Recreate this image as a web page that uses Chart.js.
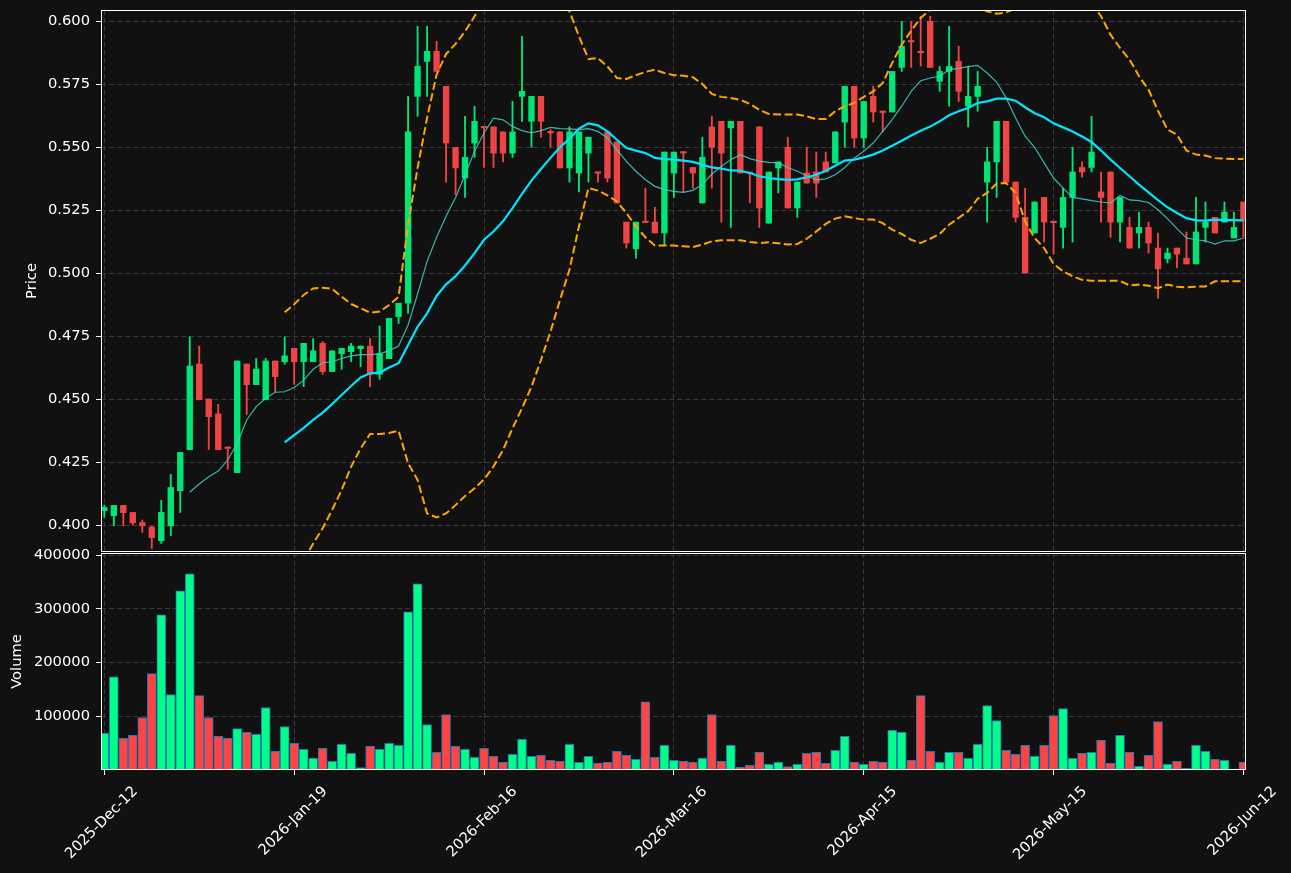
<!DOCTYPE html>
<html>
<head>
<meta charset="utf-8">
<script src="https://cdn.jsdelivr.net/npm/chart.js@4.4.1/dist/chart.umd.min.js"></script>
<style>
  html, body { margin: 0; padding: 0; background: #111111; }
  #wrap { position: relative; width: 1291px; height: 873px; overflow: hidden; }
  canvas { position: absolute; left: 0; }
  #priceChart { top: 0; }
  #volumeChart { top: 530px; }
</style>
</head>
<body>
<div id="wrap">
  <canvas id="priceChart" width="1291" height="553"></canvas>
  <canvas id="volumeChart" width="1291" height="343"></canvas>
</div>
<script>
// x tick labels, one every 20 candles
const tickLabels = ['2025-Dec-12', '2026-Jan-19', '2026-Feb-16', '2026-Mar-16', '2026-Apr-15', '2026-May-15', '2026-Jun-12'];
const tickIndex = [0, 20, 40, 60, 80, 100, 120];

const priceTicks = [0.400, 0.425, 0.450, 0.475, 0.500, 0.525, 0.550, 0.575, 0.600];
const volumeTicks = [100000, 200000, 300000, 400000];

// OHLC
const opens = [
  0.4058, 0.4038, 0.4079, 0.4051, 0.4011, 0.3993, 0.3939, 0.3998, 0.4137, 0.4300,
  0.4640, 0.4501, 0.4442, 0.4310, 0.4209, 0.4640, 0.4558, 0.4498, 0.4652, 0.4649,
  0.4702, 0.4649, 0.4649, 0.4722, 0.4610, 0.4681, 0.4689, 0.4701, 0.4711, 0.4599,
  0.4661, 0.4828, 0.4881, 0.5702, 0.5841, 0.5881, 0.5742, 0.5500, 0.5378, 0.5517,
  0.5581, 0.5581, 0.5561, 0.5477, 0.5702, 0.5603, 0.5702, 0.5563, 0.5561, 0.5418,
  0.5398, 0.5477, 0.5401, 0.5561, 0.5521, 0.5203, 0.5097, 0.5206, 0.5203, 0.5160,
  0.5398, 0.5481, 0.5420, 0.5279, 0.5581, 0.5603, 0.5577, 0.5603, 0.5400, 0.5581,
  0.5199, 0.5418, 0.5500, 0.5259, 0.5398, 0.5402, 0.5442, 0.5438, 0.5600, 0.5742,
  0.5537, 0.5702, 0.5642, 0.5640, 0.5817, 0.5922, 0.5880, 0.6000, 0.5762, 0.5801,
  0.5841, 0.5663, 0.5702, 0.5362, 0.5442, 0.5603, 0.5362, 0.5222, 0.5160, 0.5301,
  0.5205, 0.5182, 0.5301, 0.5420, 0.5420, 0.5323, 0.5402, 0.5203, 0.5182, 0.5160,
  0.5182, 0.5100, 0.5058, 0.5100, 0.5060, 0.5037, 0.5182, 0.5222, 0.5203, 0.5140,
  0.5283
];
const highs = [
  0.4080, 0.4079, 0.4079, 0.4051, 0.4021, 0.3997, 0.4099, 0.4202, 0.4289, 0.4748,
  0.4711, 0.4501, 0.4480, 0.4310, 0.4652, 0.4640, 0.4662, 0.4662, 0.4652, 0.4748,
  0.4702, 0.4722, 0.4741, 0.4729, 0.4692, 0.4702, 0.4722, 0.4711, 0.4741, 0.4791,
  0.4821, 0.4881, 0.5702, 0.5980, 0.5980, 0.5921, 0.5742, 0.5500, 0.5623, 0.5663,
  0.5581, 0.5581, 0.5561, 0.5682, 0.5940, 0.5702, 0.5702, 0.5570, 0.5561, 0.5581,
  0.5561, 0.5540, 0.5401, 0.5561, 0.5521, 0.5203, 0.5203, 0.5338, 0.5262, 0.5481,
  0.5481, 0.5481, 0.5420, 0.5540, 0.5623, 0.5603, 0.5603, 0.5603, 0.5400, 0.5581,
  0.5402, 0.5442, 0.5540, 0.5362, 0.5500, 0.5481, 0.5481, 0.5561, 0.5742, 0.5742,
  0.5682, 0.5742, 0.5642, 0.5801, 0.6000, 0.6000, 0.6020, 0.6020, 0.5821, 0.5980,
  0.5901, 0.5821, 0.5801, 0.5500, 0.5603, 0.5603, 0.5362, 0.5338, 0.5283, 0.5301,
  0.5205, 0.5338, 0.5500, 0.5442, 0.5623, 0.5402, 0.5402, 0.5301, 0.5222, 0.5243,
  0.5203, 0.5160, 0.5100, 0.5100, 0.5164, 0.5301, 0.5283, 0.5222, 0.5283, 0.5243,
  0.5283
];
const lows = [
  0.4031, 0.3998, 0.3998, 0.4001, 0.3972, 0.3908, 0.3928, 0.3959, 0.4051, 0.4300,
  0.4498, 0.4301, 0.4300, 0.4222, 0.4209, 0.4440, 0.4558, 0.4498, 0.4528, 0.4639,
  0.4559, 0.4550, 0.4649, 0.4599, 0.4610, 0.4619, 0.4649, 0.4629, 0.4550, 0.4579,
  0.4661, 0.4801, 0.4841, 0.5623, 0.5702, 0.5801, 0.5362, 0.5312, 0.5301, 0.5460,
  0.5420, 0.5420, 0.5442, 0.5460, 0.5603, 0.5500, 0.5540, 0.5500, 0.5418, 0.5362,
  0.5323, 0.5362, 0.5362, 0.5362, 0.5279, 0.5100, 0.5060, 0.5201, 0.5160, 0.5111,
  0.5301, 0.5323, 0.5338, 0.5279, 0.5338, 0.5203, 0.5182, 0.5398, 0.5279, 0.5182,
  0.5199, 0.5319, 0.5259, 0.5222, 0.5358, 0.5301, 0.5402, 0.5438, 0.5500, 0.5500,
  0.5500, 0.5600, 0.5561, 0.5640, 0.5801, 0.5817, 0.5822, 0.5817, 0.5722, 0.5663,
  0.5682, 0.5581, 0.5643, 0.5203, 0.5301, 0.5362, 0.5203, 0.5001, 0.5160, 0.5124,
  0.5076, 0.5100, 0.5124, 0.5381, 0.5402, 0.5203, 0.5143, 0.5124, 0.5100, 0.5100,
  0.5080, 0.4901, 0.5041, 0.5021, 0.5037, 0.5037, 0.5124, 0.5160, 0.5203, 0.5140,
  0.5143
];
const closes = [
  0.4071, 0.4079, 0.4050, 0.4010, 0.3998, 0.3951, 0.4051, 0.4150, 0.4289, 0.4632,
  0.4498, 0.4431, 0.4300, 0.4305, 0.4652, 0.4558, 0.4620, 0.4652, 0.4590, 0.4672,
  0.4649, 0.4722, 0.4692, 0.4610, 0.4692, 0.4702, 0.4711, 0.4711, 0.4599, 0.4681,
  0.4821, 0.4881, 0.5561, 0.5821, 0.5881, 0.5801, 0.5517, 0.5418, 0.5460, 0.5603,
  0.5577, 0.5477, 0.5477, 0.5561, 0.5722, 0.5702, 0.5603, 0.5557, 0.5418, 0.5561,
  0.5561, 0.5540, 0.5397, 0.5378, 0.5279, 0.5120, 0.5203, 0.5201, 0.5160, 0.5481,
  0.5481, 0.5477, 0.5398, 0.5460, 0.5500, 0.5477, 0.5603, 0.5398, 0.5396, 0.5259,
  0.5402, 0.5442, 0.5259, 0.5362, 0.5358, 0.5358, 0.5402, 0.5561, 0.5742, 0.5537,
  0.5682, 0.5640, 0.5638, 0.5801, 0.5901, 0.5918, 0.5875, 0.5817, 0.5801, 0.5821,
  0.5722, 0.5702, 0.5742, 0.5442, 0.5603, 0.5362, 0.5222, 0.5001, 0.5283, 0.5203,
  0.5201, 0.5301, 0.5402, 0.5402, 0.5481, 0.5301, 0.5203, 0.5301, 0.5100, 0.5182,
  0.5120, 0.5018, 0.5080, 0.5076, 0.5037, 0.5164, 0.5203, 0.5160, 0.5243, 0.5182,
  0.5213
];
const volumes = [
  68100, 173400, 58800, 64400, 97800, 179600, 289200, 140600, 333700, 365300,
  138700, 97800, 62500, 58800, 77400, 70000, 66300, 116400, 34700, 81100,
  49500, 38400, 21700, 40200, 16100, 47700, 31000, 4300, 44000, 38400,
  49500, 45800, 294700, 346700, 84800, 32800, 103400, 44000, 38400, 23500,
  40200, 25400, 14200, 29100, 57000, 25400, 27200, 18000, 16100, 47700,
  14200, 25400, 12400, 14200, 34700, 27200, 19800, 126900, 23500, 45800,
  18000, 16100, 14200, 21700, 103400, 16100, 45800, 5000, 8700, 32800,
  10500, 14200, 6200, 10500, 31000, 32800, 12400, 36500, 62500, 14200,
  10500, 16100, 14200, 73700, 70000, 18000, 138700, 34700, 14200, 32800,
  32800, 21700, 47700, 120100, 92300, 36500, 29100, 45800, 25400, 45800,
  101500, 114600, 21700, 31000, 32800, 55100, 12400, 64400, 32800, 6800,
  27200, 90400, 10500, 16100, 3100, 45800, 34700, 19800, 18000, 1500,
  14200
];

// overlay lines (null before each line starts)
const sma10 = [
  null, null, null, null, null, null, null, null, null, 0.4131,
  0.4164, 0.4193, 0.4215, 0.4259, 0.4325, 0.4418, 0.4471, 0.4504, 0.4528, 0.4530,
  0.4547, 0.4576, 0.4619, 0.4645, 0.4649, 0.4662, 0.4672, 0.4677, 0.4677, 0.4680,
  0.4693, 0.4711, 0.4795, 0.4918, 0.5047, 0.5143, 0.5226, 0.5301, 0.5391, 0.5484,
  0.5557, 0.5616, 0.5609, 0.5583, 0.5566, 0.5557, 0.5566, 0.5579, 0.5574, 0.5573,
  0.5570, 0.5574, 0.5563, 0.5537, 0.5490, 0.5444, 0.5405, 0.5371, 0.5345, 0.5332,
  0.5325, 0.5321, 0.5329, 0.5352, 0.5394, 0.5424, 0.5451, 0.5471, 0.5455, 0.5445,
  0.5440, 0.5438, 0.5420, 0.5405, 0.5387, 0.5371, 0.5375, 0.5391, 0.5420, 0.5457,
  0.5484, 0.5517, 0.5563, 0.5610, 0.5663, 0.5722, 0.5764, 0.5775, 0.5782, 0.5808,
  0.5813, 0.5820, 0.5825, 0.5795, 0.5759, 0.5696, 0.5616, 0.5544, 0.5500, 0.5438,
  0.5378, 0.5338, 0.5301, 0.5295, 0.5288, 0.5283, 0.5279, 0.5309, 0.5291, 0.5288,
  0.5281, 0.5252, 0.5217, 0.5177, 0.5140, 0.5133, 0.5129, 0.5116, 0.5129, 0.5129,
  0.5140
];
const sma20 = [
  null, null, null, null, null, null, null, null, null, null,
  null, null, null, null, null, null, null, null, null, 0.4329,
  0.4358, 0.4387, 0.4418, 0.4447, 0.4481, 0.4517, 0.4553, 0.4587, 0.4603, 0.4606,
  0.4626, 0.4643, 0.4715, 0.4788, 0.4841, 0.4910, 0.4956, 0.4988, 0.5031, 0.5080,
  0.5133, 0.5166, 0.5206, 0.5259, 0.5315, 0.5368, 0.5414, 0.5458, 0.5500, 0.5534,
  0.5574, 0.5595, 0.5587, 0.5563, 0.5530, 0.5497, 0.5487, 0.5477, 0.5458, 0.5453,
  0.5451, 0.5447, 0.5442, 0.5431, 0.5420, 0.5415, 0.5408, 0.5407, 0.5398, 0.5385,
  0.5378, 0.5374, 0.5371, 0.5373, 0.5381, 0.5391, 0.5407, 0.5427, 0.5447, 0.5451,
  0.5460, 0.5471, 0.5487, 0.5506, 0.5526, 0.5547, 0.5566, 0.5582, 0.5603, 0.5627,
  0.5643, 0.5656, 0.5676, 0.5682, 0.5693, 0.5693, 0.5685, 0.5659, 0.5635, 0.5619,
  0.5595, 0.5579, 0.5563, 0.5543, 0.5521, 0.5487, 0.5451, 0.5418, 0.5385, 0.5352,
  0.5321, 0.5290, 0.5262, 0.5239, 0.5219, 0.5210, 0.5209, 0.5213, 0.5211, 0.5211,
  0.5210
];
const bbUpper = [
  null, null, null, null, null, null, null, null, null, null,
  null, null, null, null, null, null, null, null, null, 0.4845,
  0.4877, 0.4914, 0.4940, 0.4943, 0.4938, 0.4907, 0.4878, 0.4861, 0.4844, 0.4848,
  0.4874, 0.4907, 0.5193, 0.5418, 0.5616, 0.5788, 0.5870, 0.5910, 0.5960, 0.6020,
  0.6084, 0.6099, 0.6113, 0.6133, 0.6166, 0.6186, 0.6172, 0.6148, 0.6106, 0.6040,
  0.5940, 0.5850, 0.5854, 0.5821, 0.5775, 0.5771, 0.5786, 0.5799, 0.5808, 0.5795,
  0.5786, 0.5784, 0.5778, 0.5751, 0.5712, 0.5700, 0.5696, 0.5688, 0.5672, 0.5649,
  0.5632, 0.5630, 0.5630, 0.5630, 0.5623, 0.5612, 0.5612, 0.5643, 0.5663, 0.5676,
  0.5700, 0.5722, 0.5755, 0.5835, 0.5907, 0.5963, 0.6013, 0.6046, 0.6050, 0.6061,
  0.6067, 0.6066, 0.6056, 0.6040, 0.6030, 0.6035, 0.6051, 0.6112, 0.6130, 0.6138,
  0.6153, 0.6150, 0.6138, 0.6112, 0.6072, 0.6020, 0.5947, 0.5894, 0.5848, 0.5782,
  0.5729, 0.5645, 0.5570, 0.5550, 0.5487, 0.5471, 0.5467, 0.5457, 0.5455, 0.5454,
  0.5454
];
const bbLower = [
  null, null, null, null, null, null, null, null, null, null,
  null, null, null, null, null, null, null, null, null, 0.3813,
  0.3839, 0.3860, 0.3928, 0.3988, 0.4061, 0.4140, 0.4233, 0.4305, 0.4362, 0.4362,
  0.4366, 0.4375, 0.4246, 0.4180, 0.4047, 0.4031, 0.4047, 0.4080, 0.4116, 0.4147,
  0.4182, 0.4233, 0.4299, 0.4385, 0.4464, 0.4550, 0.4656, 0.4768, 0.4894, 0.5014,
  0.5186, 0.5338, 0.5328, 0.5309, 0.5285, 0.5239, 0.5186, 0.5143, 0.5110, 0.5110,
  0.5110, 0.5107, 0.5104, 0.5114, 0.5127, 0.5131, 0.5131, 0.5131, 0.5124, 0.5120,
  0.5123, 0.5119, 0.5114, 0.5116, 0.5137, 0.5166, 0.5196, 0.5217, 0.5226, 0.5219,
  0.5213, 0.5213, 0.5199, 0.5173, 0.5156, 0.5133, 0.5120, 0.5137, 0.5156, 0.5193,
  0.5220, 0.5246, 0.5296, 0.5319, 0.5356, 0.5358, 0.5319, 0.5206, 0.5140, 0.5100,
  0.5037, 0.5008, 0.4988, 0.4974, 0.4970, 0.4970, 0.4970, 0.4970, 0.4952, 0.4955,
  0.4951, 0.4941, 0.4955, 0.4947, 0.4944, 0.4947, 0.4948, 0.4968, 0.4968, 0.4968,
  0.4968
];

const UP = '#00e676';
const DOWN = '#ef4444';
const VOL_UP = '#00ff88';
const VOL_DOWN = '#ff4444';
const GRID = '#3a3a3a';
const TEXT = '#ffffff';
const FONT = 'DejaVu Sans';

Chart.defaults.font.family = FONT;
Chart.defaults.color = TEXT;

const isUp = closes.map((c, i) => c >= opens[i]);

// white box around each plot area
const framePlugin = {
  id: 'frame',
  afterDraw(chart) {
    const { ctx, chartArea: a } = chart;
    ctx.save();
    ctx.strokeStyle = '#ffffff';
    ctx.lineWidth = 1;
    ctx.strokeRect(a.left + 0.5, a.top + 0.5, a.right - a.left - 1, a.bottom - a.top - 1);
    ctx.restore();
  }
};

function gridOpts(drawTicks) {
  return {
    color: GRID,
    lineWidth: 1,
    borderDash: [5, 3],
    drawTicks: drawTicks,
    tickLength: 5,
    tickColor: '#ffffff',
    tickWidth: 1,
    tickBorderDash: []
  };
}

function xScale(showLabels, height) {
  return {
    type: 'linear',
    min: -0.35,
    max: 120.27,
    offset: false,
    grid: Object.assign(gridOpts(showLabels), { offset: false }),
    border: { display: false, dash: [5, 3] },
    afterBuildTicks: (s) => { s.ticks = tickIndex.map(v => ({ value: v })); },
    afterFit: (s) => { s.height = height; s.paddingLeft = 0; s.paddingRight = 0; },
    ticks: {
      display: showLabels,
      autoSkip: false,
      minRotation: 45,
      maxRotation: 45,
      padding: 8,
      labelOffset: 31,
      color: TEXT,
      font: { size: 14.7 },
      callback: (v) => tickLabels[tickIndex.indexOf(v)]
    }
  };
}

function yScale(ticksList, min, max, title, titlePad, fmt) {
  return {
    type: 'linear',
    min: min,
    max: max,
    grid: gridOpts(true),
    border: { display: false, dash: [5, 3] },
    afterBuildTicks: (s) => { s.ticks = ticksList.map(v => ({ value: v })); },
    afterFit: (s) => { s.width = 101; s.paddingTop = 0; s.paddingBottom = 0; },
    ticks: { padding: 6, color: TEXT, font: { size: 14.7 }, callback: fmt },
    title: { display: true, text: title, color: TEXT, font: { size: 14.7 }, padding: { top: titlePad, bottom: 0 } }
  };
}

function lineSet(values, color, width, dash) {
  return {
    type: 'line',
    data: values.map((v, i) => ({ x: i, y: v })),
    borderColor: color,
    borderWidth: width,
    borderDash: dash,
    pointRadius: 0,
    tension: 0,
    fill: false,
    order: 0
  };
}

new Chart(document.getElementById('priceChart'), {
  type: 'bar',
  data: {
    datasets: [
      lineSet(bbUpper, '#ffa500', 2, [8, 3.5]),
      lineSet(bbLower, '#ffa500', 2, [8, 3.5]),
      lineSet(sma10, 'rgba(64, 208, 200, 0.85)', 1.2, []),
      lineSet(sma20, '#00e5ff', 2.2, []),
      {
        type: 'bar',
        data: closes.map((c, i) => ({ x: i, y: [opens[i], c] })),
        backgroundColor: isUp.map(u => u ? UP : DOWN),
        barThickness: 5.7,
        minBarLength: 1.5,
        grouped: false,
        borderWidth: 0,
        order: 1
      },
      {
        type: 'bar',
        data: highs.map((h, i) => ({ x: i, y: [lows[i], h] })),
        backgroundColor: isUp.map(u => u ? UP : DOWN),
        barThickness: 1.2,
        grouped: false,
        borderWidth: 0,
        order: 2
      }
    ]
  },
  options: {
    responsive: false,
    animation: false,
    events: [],
    layout: { padding: { top: 10, right: 45, left: 0, bottom: 0 } },
    plugins: { legend: { display: false }, tooltip: { enabled: false } },
    scales: {
      x: xScale(false, 1),
      y: yScale(priceTicks, 0.3894, 0.60448, 'Price', 23, (v) => v.toFixed(3))
    }
  },
  plugins: [framePlugin]
});

new Chart(document.getElementById('volumeChart'), {
  type: 'bar',
  data: {
    datasets: [{
      data: volumes.map((v, i) => ({ x: i, y: v })),
      backgroundColor: isUp.map(u => u ? VOL_UP : VOL_DOWN),
      borderColor: '#1f77b4',
      borderWidth: 1,
      barThickness: 9,
      grouped: false
    }]
  },
  options: {
    responsive: false,
    animation: false,
    events: [],
    layout: { padding: { top: 23, right: 45, left: 0, bottom: 0 } },
    plugins: { legend: { display: false }, tooltip: { enabled: false } },
    scales: {
      x: xScale(true, 103),
      y: yScale(volumeTicks, 0, 404300, 'Volume', 8, (v) => String(v))
    }
  },
  plugins: [framePlugin]
});
</script>
</body>
</html>
